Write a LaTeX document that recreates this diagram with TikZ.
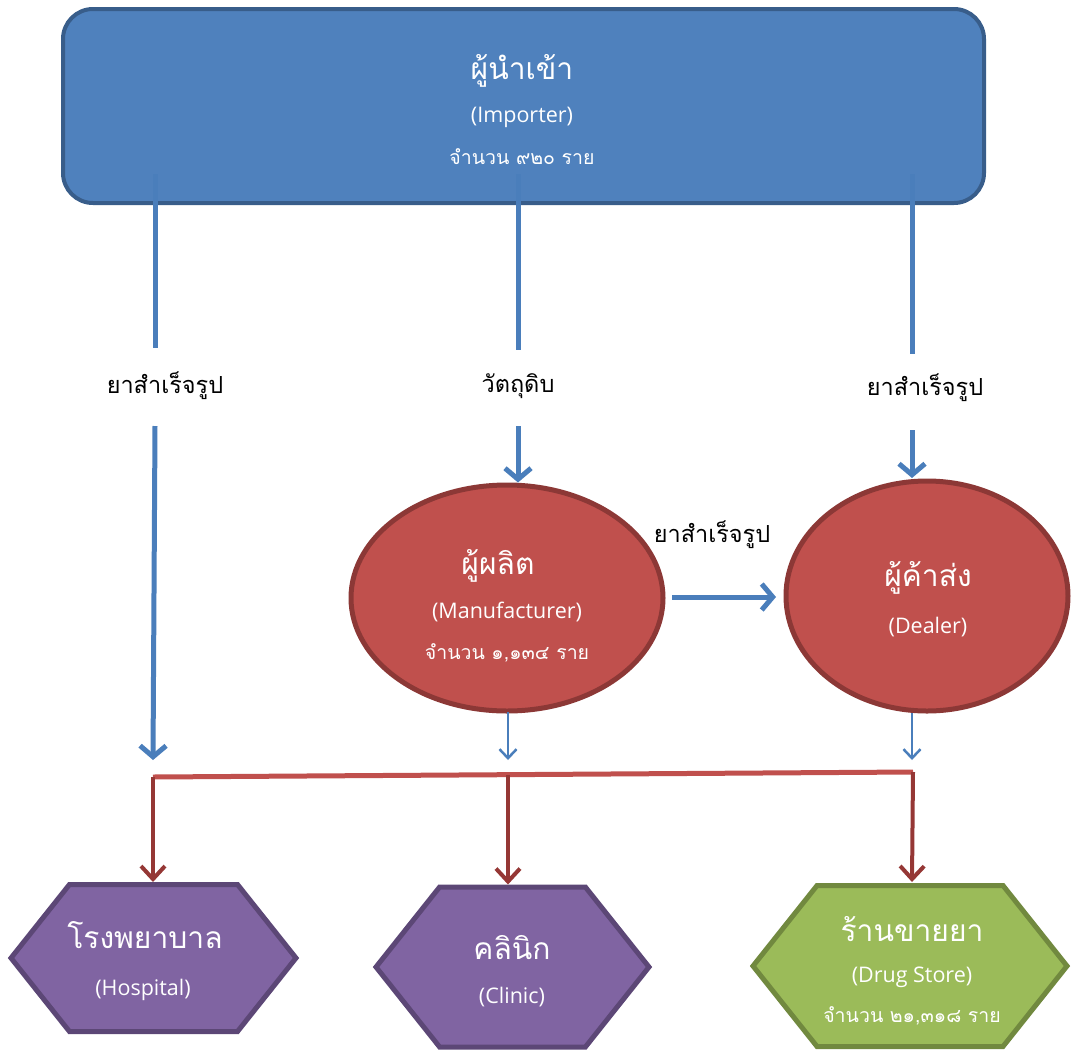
\documentclass[tikz,border=0pt]{standalone}
\usepackage{fontspec}
\setmainfont{Open Sans}
\newfontfamily\thaifont[Script=Thai]{Loma}
\usetikzlibrary{arrows.meta,shapes.geometric,shapes.symbols}

\definecolor{impfill}{HTML}{4F81BD}
\definecolor{impline}{HTML}{385D8A}
\definecolor{ovalfill}{HTML}{C0504D}
\definecolor{ovalline}{HTML}{8C3836}
\definecolor{hexpurple}{HTML}{8064A2}
\definecolor{hexpurpleline}{HTML}{5C4776}
\definecolor{hexgreen}{HTML}{9BBB59}
\definecolor{hexgreenline}{HTML}{71893F}
\definecolor{flowblue}{HTML}{4A7EBB}
\definecolor{flowred}{HTML}{953735}

\tikzset{
  bigname/.style={text=white,font=\thaifont\fontsize{30}{34}\selectfont},
  engname/.style={text=white,font=\fontsize{21.5}{25}\selectfont},
  countname/.style={text=white,font=\thaifont\fontsize{19.5}{23}\selectfont},
  flowlabel/.style={font=\thaifont\fontsize{23.5}{27}\selectfont},
  oval/.style={ellipse,draw=ovalline,fill=ovalfill,line width=5pt},
  hexbox/.style={signal,signal to=west and east,signal pointer angle=103,
    line width=5pt,minimum height=147pt},
  bluepipe/.style={flowblue,line width=5pt},
  bluearrow/.style={bluepipe,-{Straight Barb[length=11pt,width=26pt]}},
  thinarrow/.style={flowblue,line width=2.5pt,-{Straight Barb[length=9pt,width=17pt]}},
  redarrow/.style={flowred,line width=4pt,-{Straight Barb[length=13pt,width=24pt]}}
}

\begin{document}
\begin{tikzpicture}[x=1pt,y=-1pt]
  \useasboundingbox (0,0) rectangle (1071,1050);

  % importer
  \node[draw=impline,fill=impfill,line width=4pt,rounded corners=30pt,
    minimum width=921pt,minimum height=194pt] (imp) at (523.5,106) {};
  \node[bigname] (impth) at (522,71) {ผู้นำเข้า};
  \node[engname] (impen) at (522,117) {(Importer)};
  \node[countname] (impno) at (522,157) {จำนวน ๙๒๐ ราย};

  % manufacturer and dealer
  \node[oval,minimum width=312pt,minimum height=226pt] (mfr) at (507,598) {};
  \node[bigname] (mfrth) at (498,566) {ผู้ผลิต};
  \node[engname] (mfren) at (507,612) {(Manufacturer)};
  \node[countname] (mfrno) at (507,653) {จำนวน ๑,๑๓๔ ราย};

  \node[oval,minimum width=282pt,minimum height=230pt] (dlr) at (927,596) {};
  \node[bigname] (dlrth) at (928,578) {ผู้ค้าส่ง};
  \node[engname] (dlren) at (928,627) {(Dealer)};

  % customers
  \node[hexbox,draw=hexpurpleline,fill=hexpurple,minimum width=285pt] (hosp) at (153.5,958) {};
  \node[bigname] (hospth) at (145,935) {โรงพยาบาล};
  \node[engname] (hospen) at (143,990) {(Hospital)};

  \node[hexbox,draw=hexpurpleline,fill=hexpurple,minimum width=273pt,minimum height=160pt] (clin) at (512.5,967) {};
  \node[bigname] (clinth) at (512,948) {คลินิก};
  \node[engname] (clinen) at (512,997) {(Clinic)};

  \node[hexbox,draw=hexgreenline,fill=hexgreen,minimum width=314pt,minimum height=161pt] (shop) at (910,966) {};
  \node[bigname] (shopth) at (912,929) {ร้านขายยา};
  \node[engname] (shopen) at (912,977) {(Drug Store)};
  \node[countname] (shopno) at (912,1016) {จำนวน ๒๑,๓๑๘ ราย};

  % flow labels
  \node[flowlabel] (lbla) at (165,386) {ยาสำเร็จรูป};
  \node[flowlabel] (lblb) at (518,386) {วัตถุดิบ};
  \node[flowlabel] (lblc) at (925,388) {ยาสำเร็จรูป};
  \node[flowlabel] (lbld) at (712,535) {ยาสำเร็จรูป};

  % flows from importer
  \coordinate (sa) at (155,174);
  \coordinate (sb) at (518,174);
  \coordinate (sc) at (912,174);
  \coordinate (ea) at (153,760);
  \draw[bluepipe] (sa) -- (155,348);
  \draw[bluearrow] (155,426) -- (ea);
  \draw[bluepipe] (sb) -- (518,350);
  \draw[bluearrow] (518,426) -- (mfr.north -| sb);
  \draw[bluepipe] (sc) -- (912,354);
  \draw[bluearrow] (912,430) -- (912,478);
  \draw[bluearrow] (672,597) -- (776,597);

  % to customers
  \coordinate (ja) at (153,777);
  \coordinate (jb) at (508,775);
  \coordinate (jc) at (913,772);
  \draw[thinarrow] (508,712) -- (508,760);
  \draw[thinarrow] (912,713) -- (912,760);
  \draw[ovalfill,line width=5pt] (ja) -- (jc);
  \draw[redarrow] (ja) -- (ja |- hosp.north);
  \draw[redarrow] (jb) -- (jb |- clin.north);
  \draw[redarrow] (jc) -- (912,882);
\end{tikzpicture}
\end{document}
